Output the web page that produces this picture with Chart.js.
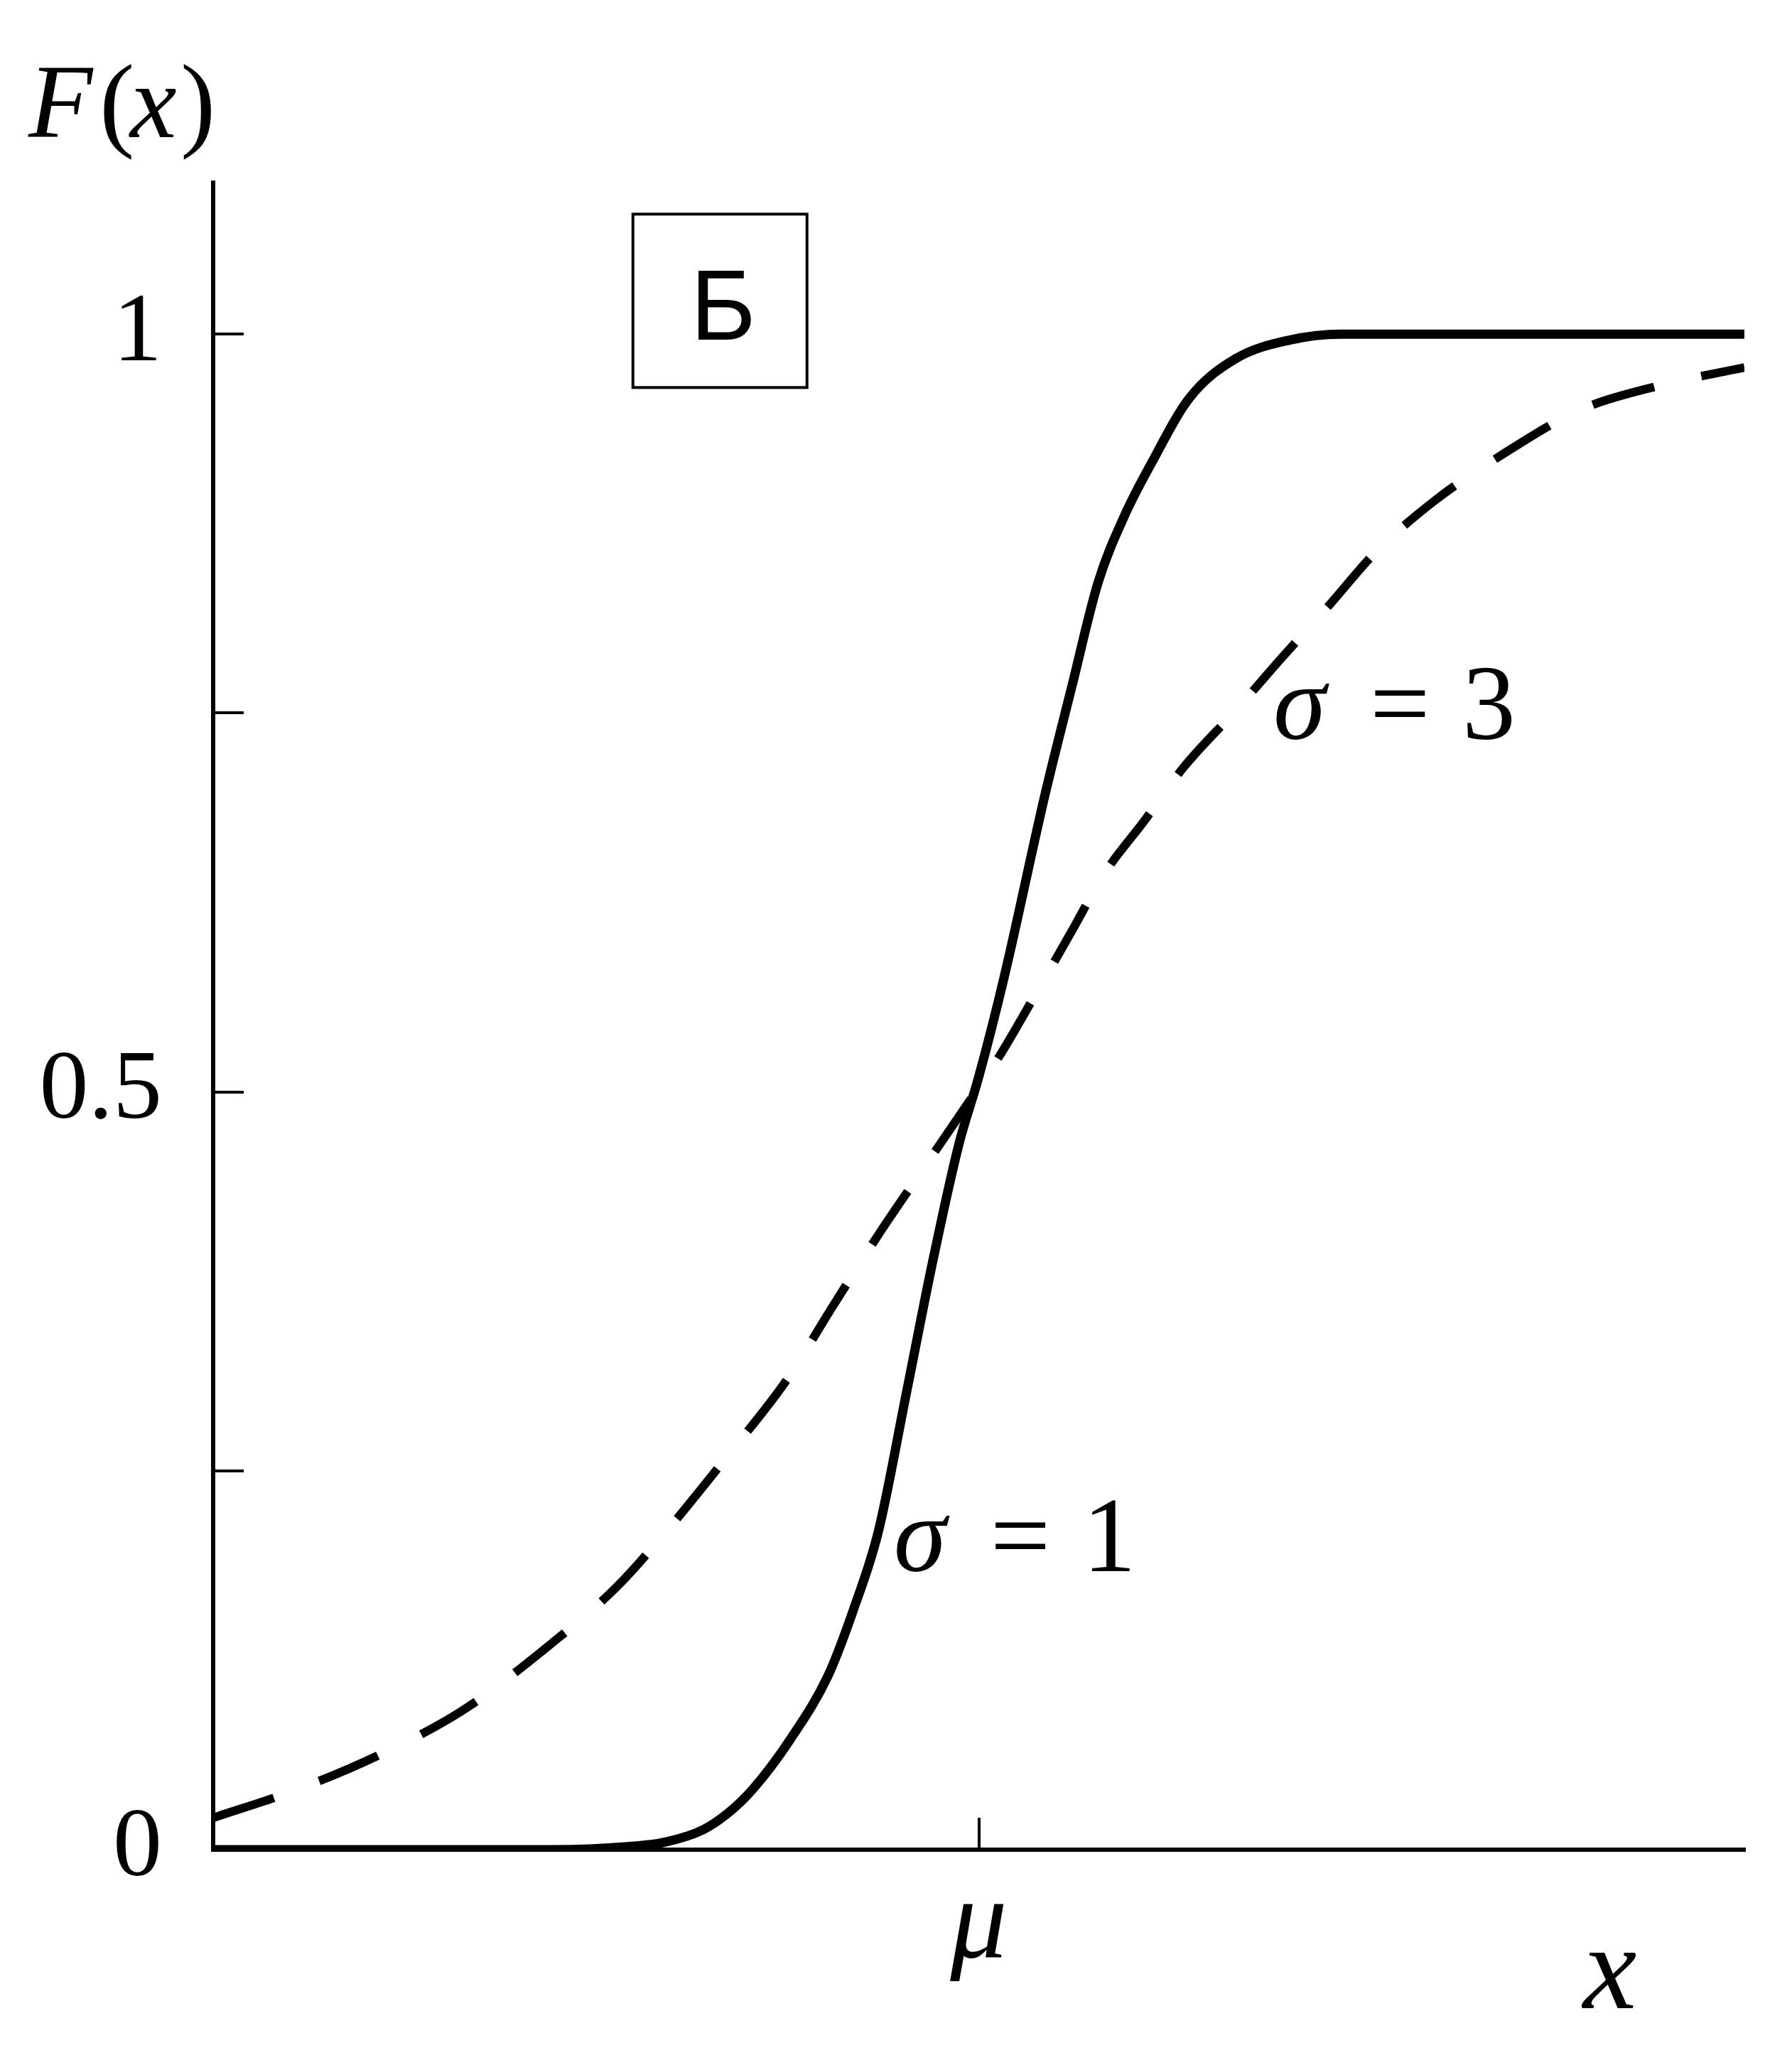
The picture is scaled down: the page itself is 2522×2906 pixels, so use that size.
<!DOCTYPE html>
<html>
<head>
<meta charset="utf-8">
<title>F(x)</title>
<script src="https://cdn.jsdelivr.net/npm/chart.js@4.4.1/dist/chart.umd.min.js"></script>
<style>
  html, body { margin: 0; padding: 0; background: #fff; }
  canvas { display: block; }
</style>
</head>
<body>
<canvas id="cdf" width="2522" height="2906"></canvas>
<script>
// x is measured in units of the narrow curve's sigma, with mu at 0
const sigma1X = [-6.1, -3.4, -2.8, -2.5, -2.2, -2.0, -1.8, -1.5, -1.2, -1.0, -0.8, -0.58, -0.37, -0.16, 0.0, 0.2, 0.53, 0.74, 0.95, 1.16, 1.37, 1.68, 2.05, 2.47, 2.89, 4.0, 6.1];
const sigma1F = [0, 0, 0.002, 0.005, 0.013, 0.024, 0.04, 0.073, 0.115, 0.158, 0.21, 0.30, 0.387, 0.465, 0.51, 0.575, 0.697, 0.767, 0.836, 0.88, 0.914, 0.958, 0.984, 0.996, 1.0, 1.0, 1.0];

const sigma3X = [-6.1, -5.42, -4.79, -4.11, -3.42, -2.89, -2.47, -2.0, -1.53, -1.16, -0.79, -0.47, -0.05, 0.16, 0.47, 0.74, 1.0, 1.32, 1.63, 2.05, 2.42, 2.79, 3.16, 3.63, 4.16, 4.79, 5.47, 6.1];
const sigma3F = [0.021, 0.04, 0.062, 0.092, 0.135, 0.173, 0.212, 0.26, 0.31, 0.359, 0.407, 0.446, 0.497, 0.523, 0.567, 0.606, 0.644, 0.679, 0.714, 0.752, 0.787, 0.821, 0.856, 0.89, 0.92, 0.95, 0.967, 0.978];

const yTickValues = [0, 0.25, 0.5, 0.75, 1];
const yTickLabels = ['0', '', '0.5', '', '1'];
const xTickValues = [0];
const xTickLabels = ['μ'];

// where the curve labels and the panel letter sit, in data units
const sigma1Label = { x: -0.678, y: 0.184, value: '1' };
const sigma3Label = { x: 2.346, y: 0.733, value: '3' };
const panelBox = { x: -2.065, y: 1.022, letter: 'Б' };

const SERIF = '"Liberation Serif", "Times New Roman", serif';

function toPoints(xs, ys) {
  return xs.map((x, i) => ({ x: x, y: ys[i] }));
}

// draws text pieces at given offsets, each with its own style
function drawPieces(ctx, x0, baseline, size, pieces) {
  for (const p of pieces) {
    ctx.font = `${p.style} ${size}px ${SERIF}`;
    ctx.fillText(p.text, x0 + p.dx, baseline);
  }
}

const annotations = {
  id: 'annotations',
  afterDraw(chart) {
    const { ctx, scales: { x, y } } = chart;
    ctx.save();
    ctx.fillStyle = '#000';
    ctx.strokeStyle = '#000';
    ctx.textBaseline = 'alphabetic';
    ctx.textAlign = 'left';

    // y axis name
    drawPieces(ctx, 40, 193, 148, [
      { text: 'F', style: 'italic', dx: 0 },
      { text: '(', style: 'normal', dx: 100 },
      { text: 'x', style: 'italic', dx: 143 },
      { text: ')', style: 'normal', dx: 214 }
    ]);

    // x axis name
    ctx.font = `italic 170px ${SERIF}`;
    ctx.fillText('x', 2228, 2826);

    // curve labels
    for (const lab of [sigma1Label, sigma3Label]) {
      const px = x.getPixelForValue(lab.x);
      const py = y.getPixelForValue(lab.y);
      drawPieces(ctx, px, py, 150, [
        { text: 'σ', style: 'italic', dx: 0 },
        { text: '=', style: 'normal', dx: 136 },
        { text: lab.value, style: 'normal', dx: 266 }
      ]);
    }

    // panel letter in a box
    const bx = x.getPixelForValue(panelBox.x);
    const by = y.getPixelForValue(panelBox.y);
    ctx.lineWidth = 4;
    ctx.strokeRect(bx - 122, by - 122, 245, 244);
    ctx.font = '141px "Liberation Sans", Arial, sans-serif';
    ctx.textAlign = 'center';
    ctx.fillText(panelBox.letter, bx + 5, by + 55);

    ctx.restore();
  }
};

const ctx = document.getElementById('cdf').getContext('2d');

new Chart(ctx, {
  type: 'line',
  data: {
    datasets: [
      {
        label: 'σ = 1',
        data: toPoints(sigma1X, sigma1F),
        borderColor: '#000',
        borderWidth: 13,
        pointRadius: 0,
        cubicInterpolationMode: 'monotone',
        fill: false
      },
      {
        label: 'σ = 3',
        data: toPoints(sigma3X, sigma3F),
        borderColor: '#000',
        borderWidth: 12,
        borderDash: [90, 68],
        pointRadius: 0,
        cubicInterpolationMode: 'monotone',
        fill: false
      }
    ]
  },
  options: {
    responsive: false,
    animation: false,
    devicePixelRatio: 1,
    layout: { padding: { top: 257, right: 67, left: 0, bottom: 0 } },
    plugins: {
      legend: { display: false },
      tooltip: { enabled: false }
    },
    scales: {
      x: {
        type: 'linear',
        min: -6.1,
        max: 6.1,
        afterBuildTicks: (scale) => { scale.ticks = xTickValues.map(v => ({ value: v })); },
        afterFit: (scale) => { scale.height = 303; },
        ticks: {
          callback: (v) => { const i = xTickValues.indexOf(v); return i >= 0 ? xTickLabels[i] : ''; },
          font: { family: SERIF, size: 160, style: 'italic' },
          color: '#000',
          padding: 58,
          maxRotation: 0,
          autoSkip: false
        },
        grid: { drawOnChartArea: false, drawTicks: true, tickLength: -45, color: '#000', lineWidth: 4 },
        border: { display: true, color: '#000', width: 6 }
      },
      y: {
        type: 'linear',
        min: 0,
        max: 1.1,
        afterBuildTicks: (scale) => { scale.ticks = yTickValues.map(v => ({ value: v })); },
        afterFit: (scale) => { scale.width = 300; },
        ticks: {
          callback: (v) => { const i = yTickValues.indexOf(v); return i >= 0 ? yTickLabels[i] : ''; },
          font: { family: SERIF, size: 138 },
          color: '#000',
          padding: 115,
          autoSkip: false
        },
        grid: { drawOnChartArea: false, drawTicks: true, tickLength: -43, color: '#000', lineWidth: 4 },
        border: { display: true, color: '#000', width: 6 }
      }
    }
  },
  plugins: [annotations]
});
</script>
</body>
</html>
